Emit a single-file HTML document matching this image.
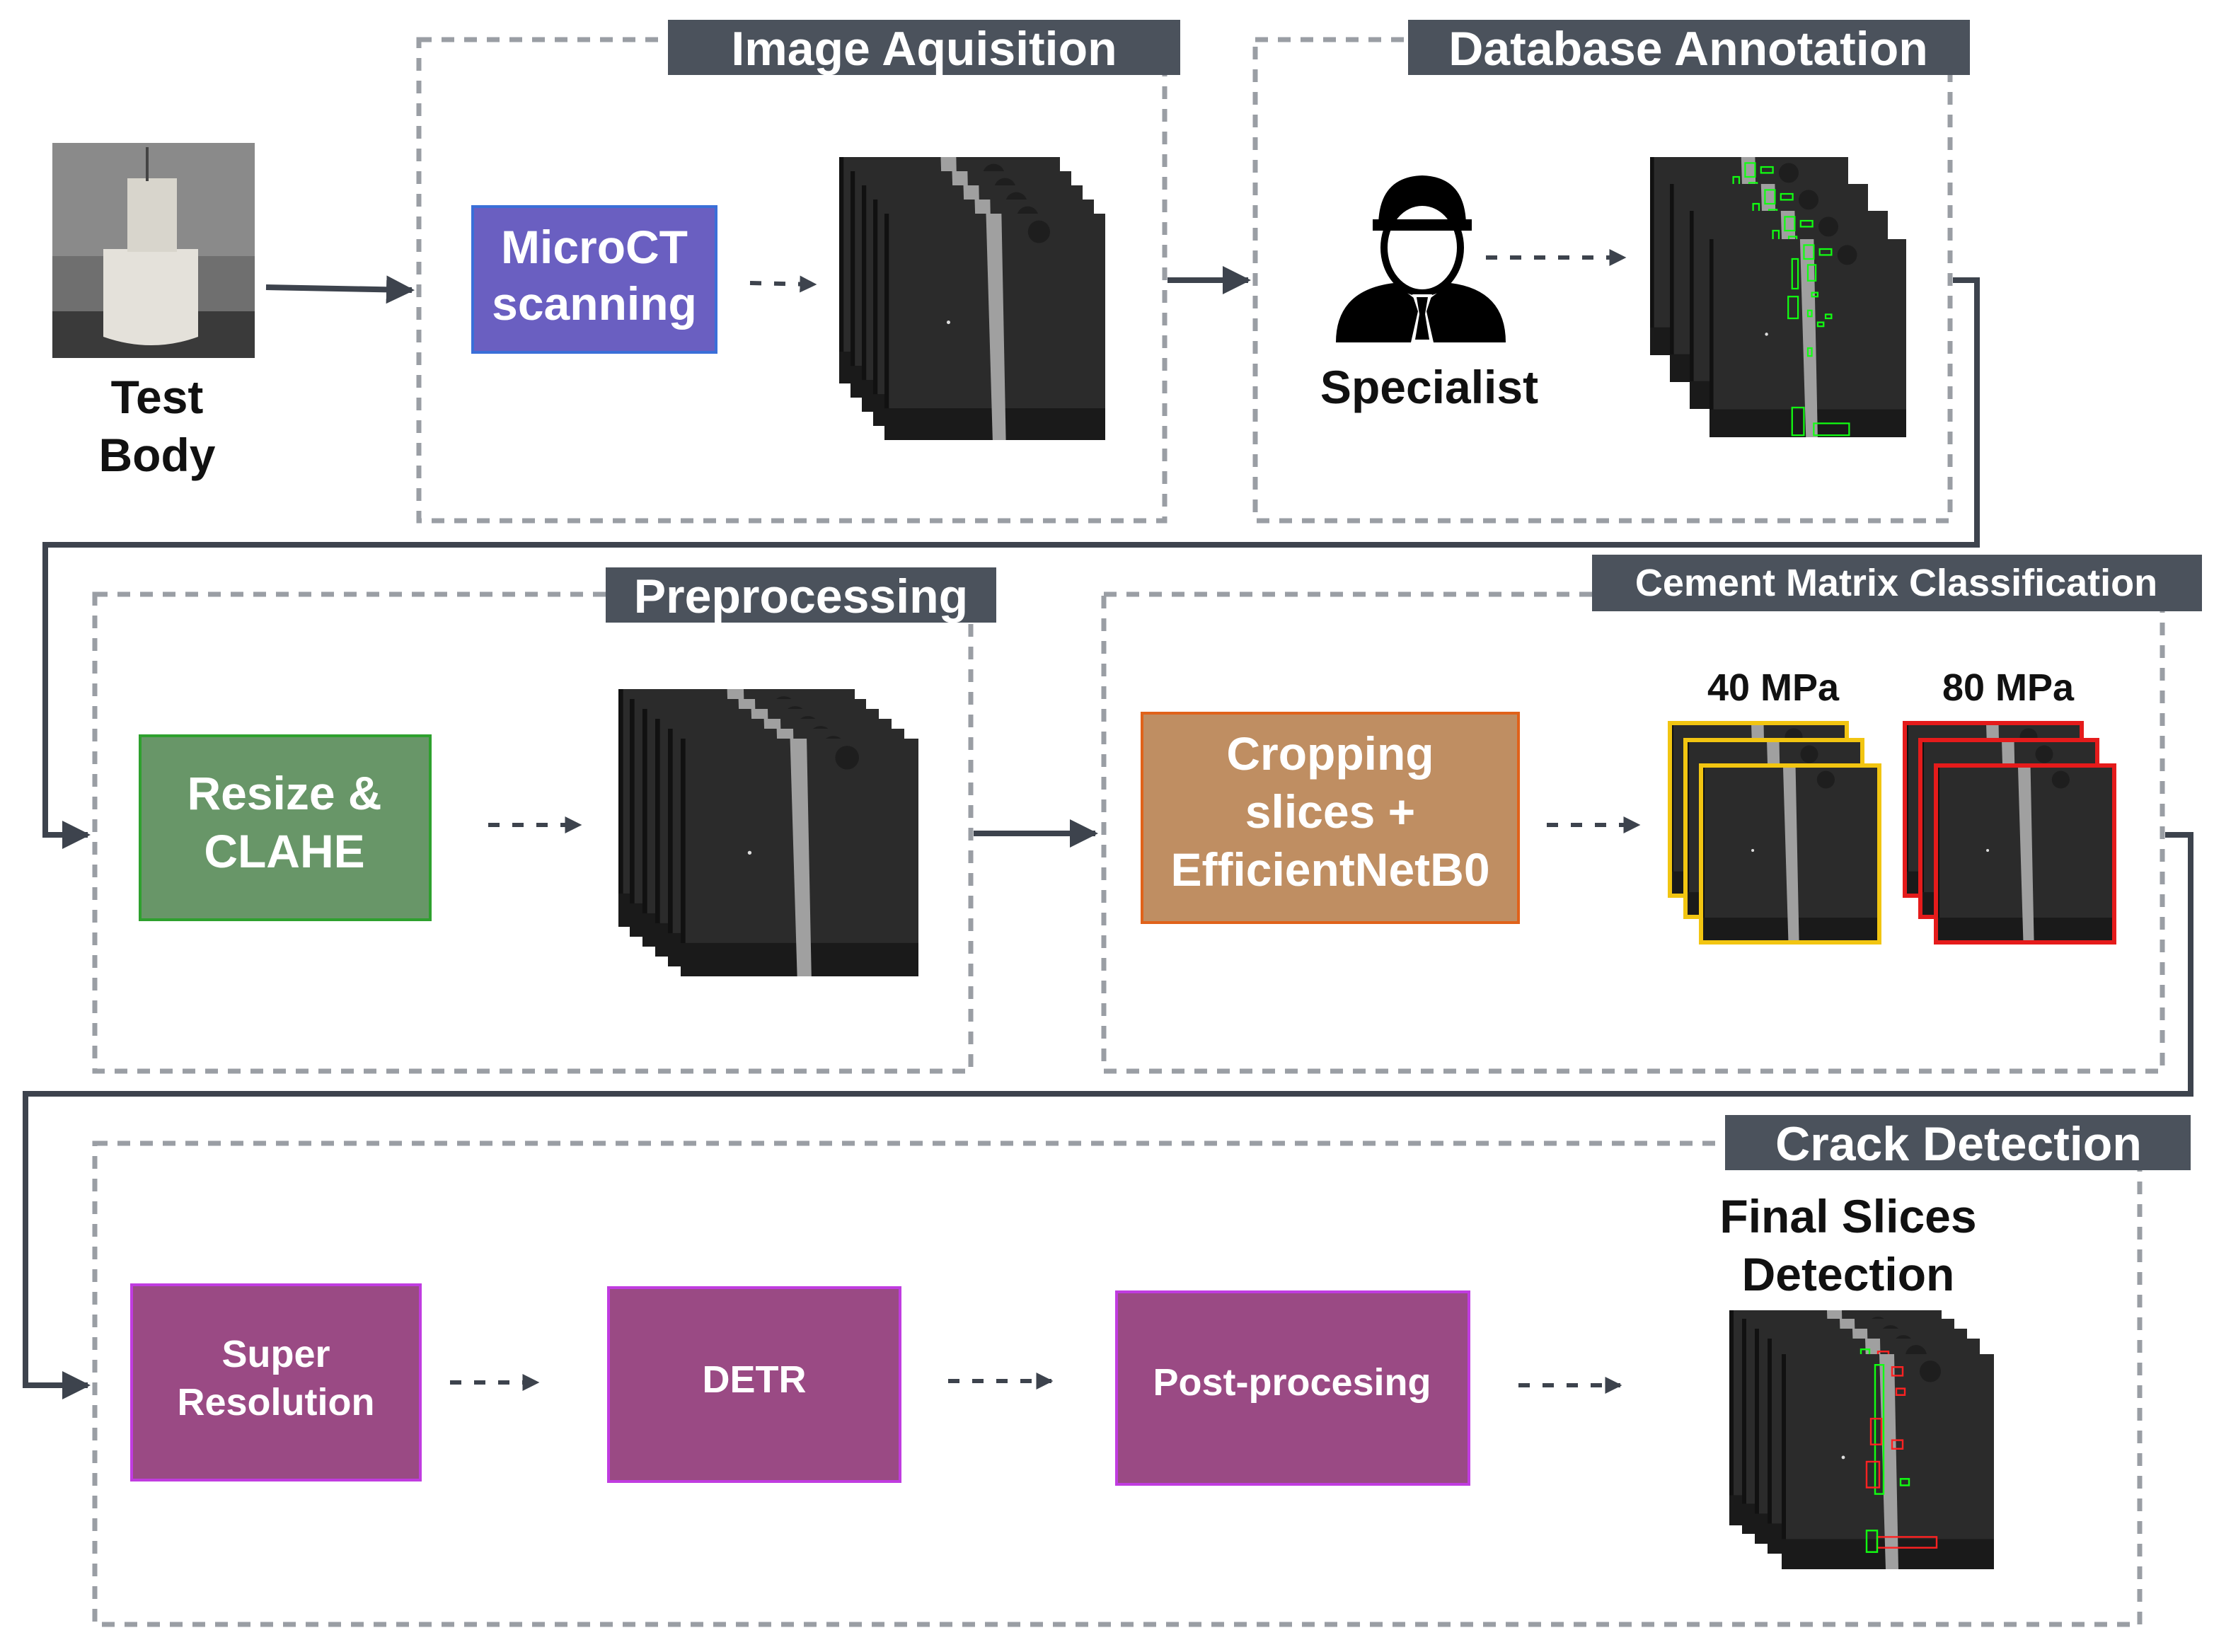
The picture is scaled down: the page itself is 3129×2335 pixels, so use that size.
<!DOCTYPE html>
<html><head><meta charset="utf-8"><style>
html,body{margin:0;padding:0;background:#fff;}
svg{display:block;}
text{font-family:"Liberation Sans",Arial,sans-serif;font-weight:bold;}
</style></head><body>
<svg width="3129" height="2335" viewBox="0 0 1564.5 1167.5" xmlns="http://www.w3.org/2000/svg">
<defs>
<symbol id="sl" viewBox="0 0 100 100" preserveAspectRatio="none">
<rect x="0" y="0" width="100" height="100" fill="#111"/>
<rect x="2" y="0" width="98" height="86" fill="#2b2b2b"/>
<rect x="0" y="86" width="100" height="14" fill="#1a1a1a"/>
<polygon points="46,0 53,0 55,100 49,100" fill="#a0a0a0" stroke="none"/>
<circle cx="70" cy="8" r="5" fill="#1e1e1e" stroke="none"/>
<circle cx="29" cy="48" r="0.8" fill="#ddd" stroke="none"/>
</symbol>
<symbol id="sla" viewBox="0 0 100 100" preserveAspectRatio="none">
<use href="#sl" x="0" y="0" width="100" height="100"/>
<g fill="none" stroke="#1f1" stroke-width="0.8">
<rect x="48" y="3" width="5" height="7"/><rect x="56" y="5" width="6" height="3"/>
<rect x="42" y="10" width="3" height="15"/><rect x="50" y="13" width="4" height="8"/>
<rect x="40" y="29" width="5" height="11"/><rect x="52" y="27" width="3" height="2"/>
<rect x="50" y="36" width="2" height="3"/><rect x="50" y="55" width="2" height="4"/>
<rect x="42" y="85" width="6" height="14"/><rect x="53" y="93" width="18" height="6"/>
<rect x="59" y="38" width="3" height="2"/><rect x="55" y="42" width="3" height="2"/>
</g>
</symbol>
<symbol id="sld" viewBox="0 0 100 100" preserveAspectRatio="none">
<use href="#sl" x="0" y="0" width="100" height="100"/>
<g fill="none" stroke-width="0.8">
<rect x="44" y="5" width="4" height="60" stroke="#1f1"/>
<rect x="52" y="6" width="5" height="4" stroke="#f22"/><rect x="54" y="16" width="4" height="3" stroke="#f22"/>
<rect x="42" y="30" width="5" height="12" stroke="#f22"/><rect x="52" y="40" width="5" height="4" stroke="#f22"/>
<rect x="40" y="50" width="6" height="12" stroke="#f22"/><rect x="56" y="58" width="4" height="3" stroke="#1f1"/>
<rect x="45" y="85" width="28" height="5" stroke="#f22"/><rect x="40" y="82" width="5" height="10" stroke="#1f1"/>
</g>
</symbol>
<marker id="ah" viewBox="0 0 10 10" refX="9" refY="5" markerWidth="5" markerHeight="5" orient="auto"><path d="M0,0 L10,5 L0,10 z" fill="#3d434d"/></marker>
<marker id="ah2" viewBox="0 0 10 10" refX="9" refY="5" markerWidth="4" markerHeight="4" orient="auto"><path d="M0,0 L10,5 L0,10 z" fill="#3d434d"/></marker>
</defs>

<g fill="none" stroke="#9a9ea4" stroke-width="3.5" stroke-dasharray="9,7">
<rect x="296" y="28" width="527" height="340"/>
<rect x="887" y="28" width="491" height="340"/>
<rect x="67" y="420" width="619" height="337"/>
<rect x="780" y="420" width="748" height="337"/>
<rect x="67" y="808" width="1445" height="340"/>
</g>
<g fill="#4b525c">
<rect x="472" y="14" width="362" height="39"/>
<rect x="995" y="14" width="397" height="39"/>
<rect x="428" y="401" width="276" height="39"/>
<rect x="1125" y="392" width="431" height="40"/>
<rect x="1219" y="788" width="329" height="39"/>
</g>
<g fill="#fff" text-anchor="middle">
<text x="653" y="46" font-size="34">Image Aquisition</text>
<text x="1193" y="46" font-size="34">Database Annotation</text>
<text x="566" y="433" font-size="34">Preprocessing</text>
<text x="1340" y="421" font-size="27">Cement Matrix Classification</text>
<text x="1384" y="820" font-size="34">Crack Detection</text>
</g>

<rect x="37" y="101" width="143" height="152" fill="#6f6f6f"/>
<rect x="37" y="101" width="143" height="80" fill="#8a8a8a"/>
<rect x="37" y="220" width="143" height="33" fill="#3a3a3a"/>
<path d="M73,176 L140,176 L140,238 Q107,250 73,238 Z" fill="#e4e1da"/>
<rect x="90" y="126" width="35" height="52" fill="#d8d5cc"/>
<line x1="104" y1="104" x2="104" y2="128" stroke="#444" stroke-width="2"/>
<text x="111" y="292" font-size="33" text-anchor="middle" fill="#111">Test</text>
<text x="111" y="333" font-size="33" text-anchor="middle" fill="#111">Body</text>

<g stroke="#3d434d" stroke-width="4" fill="none">
<line x1="188" y1="203" x2="291" y2="205" marker-end="url(#ah)"/>
<line x1="825" y1="198" x2="882" y2="198" marker-end="url(#ah)"/>
<polyline points="1380,198 1397,198 1397,385 32,385 32,590 62,590" marker-end="url(#ah)"/>
<line x1="688" y1="589" x2="774" y2="589" marker-end="url(#ah)"/>
<polyline points="1530,590 1548,590 1548,773 18,773 18,979 62,979" marker-end="url(#ah)"/>
</g>
<g stroke="#3d434d" stroke-width="3" fill="none" stroke-dasharray="8,9">
<line x1="530" y1="200" x2="576" y2="201" marker-end="url(#ah2)"/>
<line x1="1050" y1="182" x2="1148" y2="182" marker-end="url(#ah2)"/>
<line x1="345" y1="583" x2="410" y2="583" marker-end="url(#ah2)"/>
<line x1="1093" y1="583" x2="1158" y2="583" marker-end="url(#ah2)"/>
<line x1="318" y1="977" x2="380" y2="977" marker-end="url(#ah2)"/>
<line x1="670" y1="976" x2="743" y2="976" marker-end="url(#ah2)"/>
<line x1="1073" y1="979" x2="1145" y2="979" marker-end="url(#ah2)"/>
</g>

<rect x="334" y="146" width="172" height="103" fill="#6a5fc1" stroke="#3a6fd8" stroke-width="2"/>
<text x="420" y="186" font-size="33" fill="#fff" text-anchor="middle">MicroCT</text>
<text x="420" y="226" font-size="33" fill="#fff" text-anchor="middle">scanning</text>

<use href="#sl" x="593" y="111" width="156" height="160"/>
<use href="#sl" x="601" y="121" width="156" height="160"/>
<use href="#sl" x="609" y="131" width="156" height="160"/>
<use href="#sl" x="617" y="141" width="156" height="160"/>
<use href="#sl" x="625" y="151" width="156" height="160"/>

<g fill="#000">
<path d="M974,160 Q974,125 1005,124 Q1036,125 1036,160 Z"/>
<ellipse cx="1005" cy="175" rx="27" ry="32" fill="#fff" stroke="#000" stroke-width="5"/>
<rect x="970" y="155" width="70" height="8"/>
<path d="M944,242 Q944,205 985,200 L1005,215 L1025,200 Q1064,205 1064,242 Z"/>
<path d="M998,208 L1012,208 L1008,220 L1013,242 L997,242 L1002,220 Z" fill="#fff"/>
<path d="M1001,210 L1009,210 L1007,222 L1010,240 L1000,240 L1003,222 Z"/>
</g>
<text x="1010" y="285" font-size="33" text-anchor="middle" fill="#111">Specialist</text>

<use href="#sla" x="1166" y="111" width="140" height="140"/>
<use href="#sla" x="1180" y="130" width="140" height="140"/>
<use href="#sla" x="1194" y="149" width="140" height="140"/>
<use href="#sla" x="1208" y="169" width="139" height="140"/>

<rect x="99" y="520" width="205" height="130" fill="#689668" stroke="#2ea02e" stroke-width="2"/>
<text x="201" y="572" font-size="33" fill="#fff" text-anchor="middle">Resize &amp;</text>
<text x="201" y="613" font-size="33" fill="#fff" text-anchor="middle">CLAHE</text>

<use href="#sl" x="437" y="487" width="167" height="168"/>
<use href="#sl" x="445" y="494" width="167" height="168"/>
<use href="#sl" x="454" y="501" width="167" height="168"/>
<use href="#sl" x="463" y="508" width="167" height="168"/>
<use href="#sl" x="472" y="515" width="167" height="168"/>
<use href="#sl" x="481" y="522" width="168" height="168"/>

<rect x="807" y="504" width="266" height="148" fill="#bf8e62" stroke="#e0621a" stroke-width="2"/>
<text x="940" y="544" font-size="33" fill="#fff" text-anchor="middle">Cropping</text>
<text x="940" y="585" font-size="33" fill="#fff" text-anchor="middle">slices +</text>
<text x="940" y="626" font-size="33" fill="#fff" text-anchor="middle">EfficientNetB0</text>

<text x="1253" y="495" font-size="27" text-anchor="middle" fill="#111">40 MPa</text>
<text x="1419" y="495" font-size="27" text-anchor="middle" fill="#111">80 MPa</text>
<use href="#sl" x="1180" y="511" width="125" height="122"/>
<rect x="1180" y="511" width="125" height="122" fill="none" stroke="#f2c511" stroke-width="3"/>
<use href="#sl" x="1191" y="523" width="125" height="125"/>
<rect x="1191" y="523" width="125" height="125" fill="none" stroke="#f2c511" stroke-width="3"/>
<use href="#sl" x="1202" y="541" width="126" height="125"/>
<rect x="1202" y="541" width="126" height="125" fill="none" stroke="#f2c511" stroke-width="3"/>
<use href="#sl" x="1346" y="511" width="125" height="122"/>
<rect x="1346" y="511" width="125" height="122" fill="none" stroke="#e51b1b" stroke-width="3"/>
<use href="#sl" x="1357" y="523" width="125" height="125"/>
<rect x="1357" y="523" width="125" height="125" fill="none" stroke="#e51b1b" stroke-width="3"/>
<use href="#sl" x="1368" y="541" width="126" height="125"/>
<rect x="1368" y="541" width="126" height="125" fill="none" stroke="#e51b1b" stroke-width="3"/>

<rect x="93" y="908" width="204" height="138" fill="#9a4a84" stroke="#c03ce0" stroke-width="2"/>
<text x="195" y="966" font-size="27" fill="#fff" text-anchor="middle">Super</text>
<text x="195" y="1000" font-size="27" fill="#fff" text-anchor="middle">Resolution</text>
<rect x="430" y="910" width="206" height="137" fill="#9a4a84" stroke="#c03ce0" stroke-width="2"/>
<text x="533" y="984" font-size="27" fill="#fff" text-anchor="middle">DETR</text>
<rect x="789" y="913" width="249" height="136" fill="#9a4a84" stroke="#c03ce0" stroke-width="2"/>
<text x="913" y="986" font-size="27" fill="#fff" text-anchor="middle">Post-procesing</text>

<text x="1306" y="871" font-size="33" text-anchor="middle" fill="#111">Final Slices</text>
<text x="1306" y="912" font-size="33" text-anchor="middle" fill="#111">Detection</text>
<use href="#sld" x="1222" y="926" width="150" height="152"/>
<use href="#sld" x="1231" y="932" width="150" height="152"/>
<use href="#sld" x="1240" y="939" width="150" height="152"/>
<use href="#sld" x="1249" y="946" width="150" height="152"/>
<use href="#sld" x="1259" y="957" width="150" height="152"/>
</svg>
</body></html>
